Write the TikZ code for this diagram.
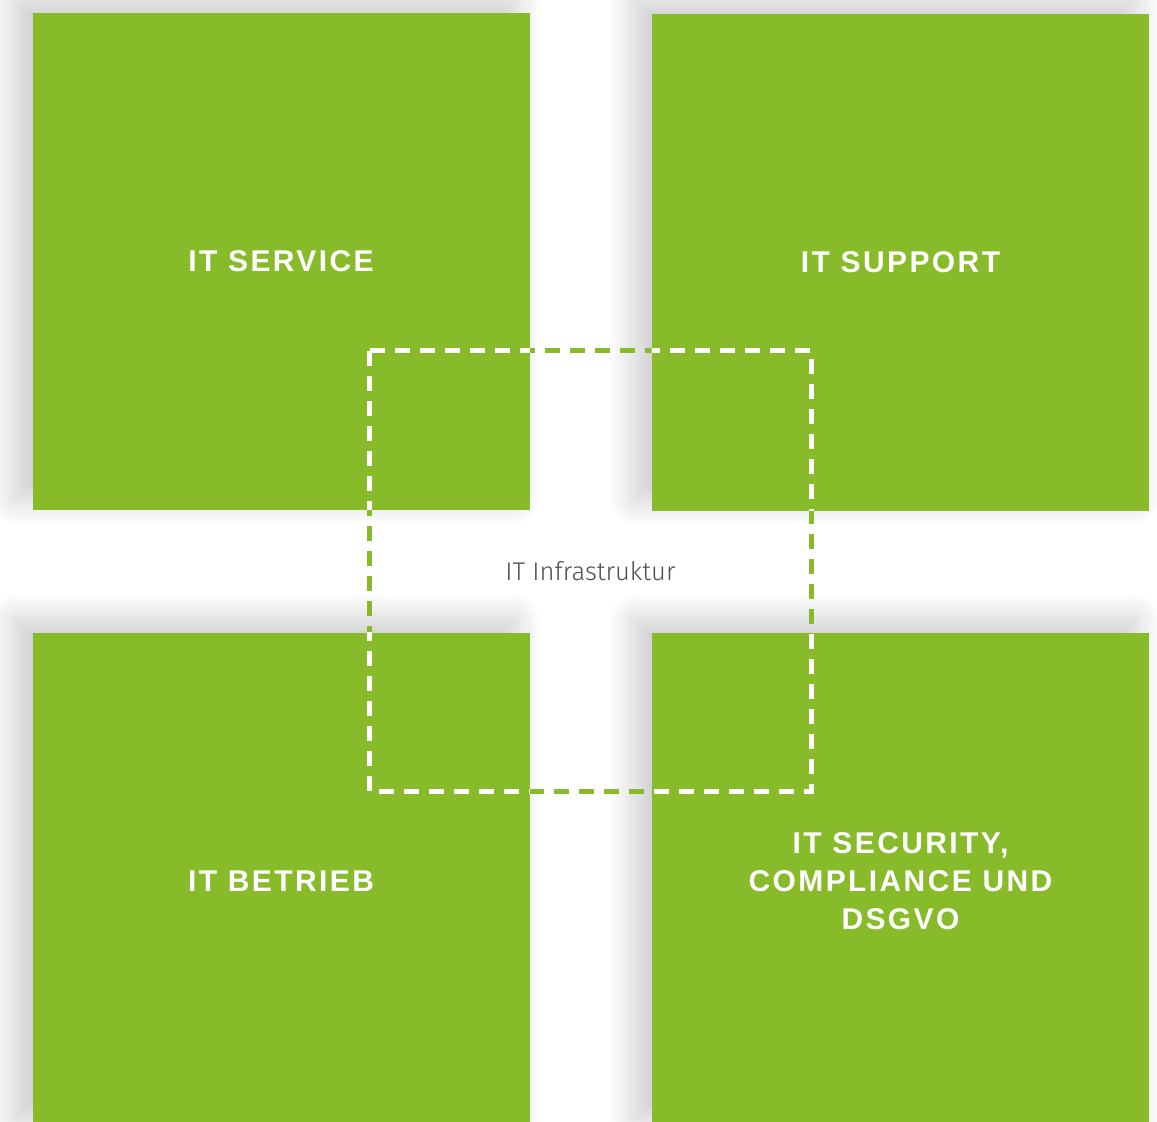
\documentclass[tikz,border=0pt]{standalone}
\usepackage{fontspec}
\setmainfont{Fira Sans Light}
\newfontfamily\tilefont[LetterSpace=8]{Liberation Sans}
\usetikzlibrary{shadows.blur}
\definecolor{tilegreen}{HTML}{88BB29}
\definecolor{infragray}{HTML}{4F4F4F}
\begin{document}
\begin{tikzpicture}[x=0.5pt,y=-0.5pt,
  tile/.style={fill=tilegreen, minimum size=248.5pt, inner sep=0pt, text=white,
    font=\tilefont\bfseries\fontsize{15}{19}\selectfont, align=center,
    blur shadow={shadow xshift=-8pt, shadow yshift=6pt, shadow blur radius=14pt,
      shadow blur steps=30, shadow opacity=22}},
  infraline/.style={line width=2.5pt, dash pattern=on 7.5pt off 5pt}]
  \useasboundingbox (0,0) rectangle (1157,1121);
  \node[tile] (service) at (281,261) {IT SERVICE};
  \node[tile] (support) at (900.5,262) {IT SUPPORT};
  \node[tile] (betrieb) at (281,881) {IT BETRIEB};
  \node[tile] (security) at (900.5,881) {IT SECURITY,\\COMPLIANCE UND\\DSGVO};
  \node[minimum width=220.5pt, minimum height=220pt, text=infragray,
    font=\fontsize{12.8}{15}\selectfont] (infra) at (590.5,571) {IT Infrastruktur};
  \draw[infraline, tilegreen] (infra.north west) rectangle (infra.south east);
  \begin{scope}
    \clip (service.north west) rectangle (service.south east)
      (support.north west) rectangle (support.south east)
      (betrieb.north west) rectangle (betrieb.south east)
      (security.north west) rectangle (security.south east);
    \draw[infraline, white] (infra.north west) rectangle (infra.south east);
  \end{scope}
\end{tikzpicture}
\end{document}
